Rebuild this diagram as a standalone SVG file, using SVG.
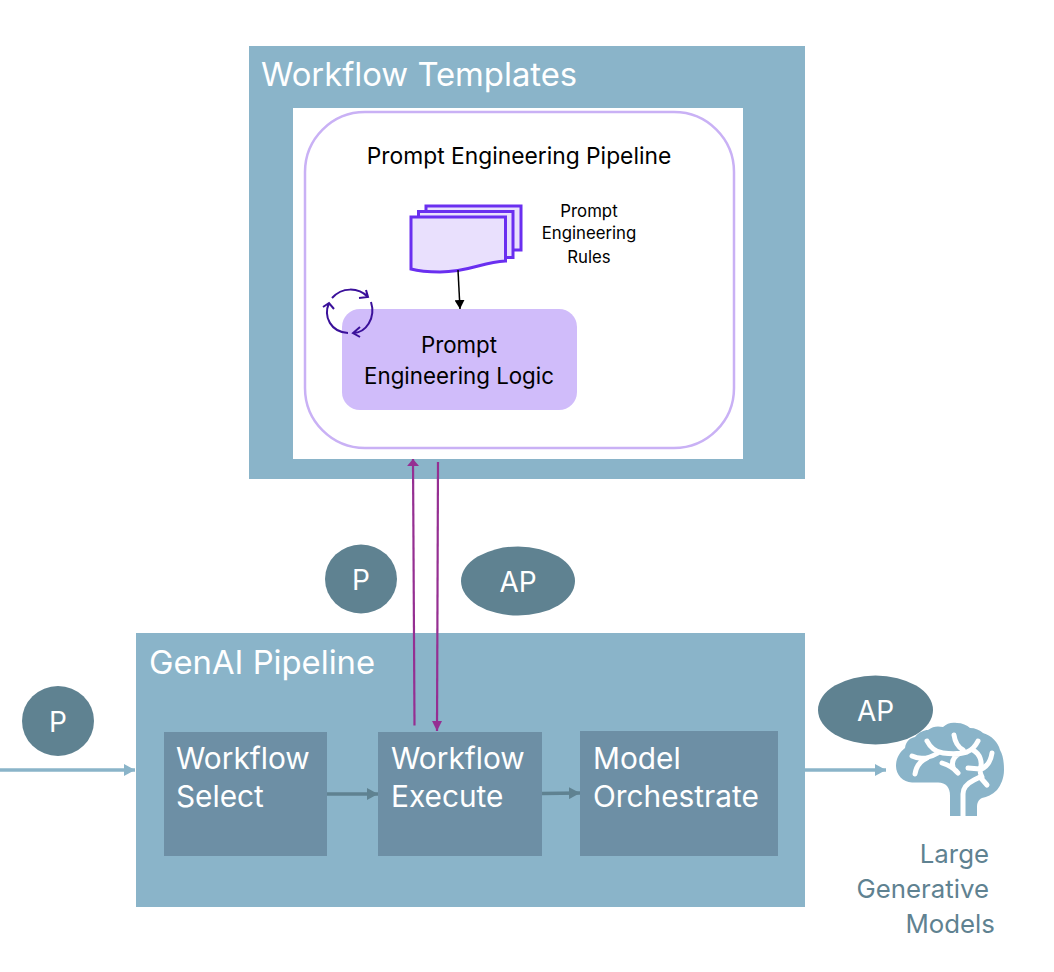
<svg xmlns="http://www.w3.org/2000/svg" width="1054" height="972" viewBox="0 0 1054 972">
<style>
text{font-family:Inter,"Noto Sans",sans-serif}
.w{fill:#fff}.k{fill:#000}
.t1{font-size:32.800px}.t2{font-size:29.800px}.t3{font-size:22.800px}.t3b{font-size:22.300px}.t4{font-size:16.800px}.t5{font-size:25.800px}.t6{font-size:28px}
.box{fill:#6d8fa5}
.oval{fill:#5f8291}
.page{fill:#e9e0fd;stroke:#6a2ff0;stroke-width:3}
.pl{fill:none;stroke:#952f92;stroke-width:2.200}
.cy{fill:none;stroke:#3a109a;stroke-width:2}
.st{fill:none;stroke:#5f8291;stroke-width:3.500}
.bl{fill:none;stroke:#8ab4c9;stroke-width:3.500}
.bw{fill:none;stroke:#fff;stroke-width:5;stroke-linecap:round;stroke-linejoin:round}
</style>
<defs>
<marker id="mp" markerUnits="userSpaceOnUse" markerWidth="12" markerHeight="10" refX="10" refY="5" orient="auto"><path d="M0 0L10 5L0 10Z" fill="#952f92"/></marker>
<marker id="mp2" markerUnits="userSpaceOnUse" markerWidth="8" markerHeight="12" refX="7" refY="6" orient="auto"><path d="M0 0L7 6L0 12Z" fill="#952f92"/></marker>
<marker id="mk" markerUnits="userSpaceOnUse" markerWidth="10" markerHeight="10" refX="9" refY="5" orient="auto"><path d="M0 0L9 5L0 10Z" fill="#000"/></marker>
<marker id="ms" markerUnits="userSpaceOnUse" markerWidth="12" markerHeight="12" refX="11" refY="6" orient="auto"><path d="M0 0L11 6L0 12Z" fill="#5f8291"/></marker>
<marker id="mb" markerUnits="userSpaceOnUse" markerWidth="12" markerHeight="12" refX="11" refY="6" orient="auto"><path d="M0 0L11 6L0 12Z" fill="#8ab4c9"/></marker>
</defs>
<g id="workflow-templates">
<rect x="249" y="46" width="556" height="433" fill="#8ab4c9"/>
<text class="w t1" x="261" y="86">Workflow Templates</text>
<rect x="293" y="108" width="450" height="351" fill="#fff"/>
</g>
<g id="prompt-pipeline">
<rect x="305" y="112" width="429" height="336" rx="60" fill="#fff" stroke="#c9b1f5" stroke-width="2.500"/>
<text class="k t3" x="519" y="164" text-anchor="middle">Prompt Engineering Pipeline</text>
</g>
<g id="prompt-rules">
<rect x="426" y="206" width="95" height="44" class="page"/>
<rect x="418.500" y="211.500" width="94.500" height="46" class="page"/>
<path class="page" d="M411 217H505.500V261C482 262 470 272 440 272C428 272 418 271 411 269Z"/>
<text class="k t4" x="589" y="217" text-anchor="middle">Prompt</text>
<text class="k t4" x="589" y="239" text-anchor="middle">Engineering</text>
<text class="k t4" x="589" y="263" text-anchor="middle">Rules</text>
</g>
<g id="prompt-logic">
<rect x="342" y="309" width="235" height="101" rx="18" fill="#d0bcfa"/>
<text class="k t3b" x="459" y="353" text-anchor="middle">Prompt</text>
<text class="k t3b" x="459" y="384" text-anchor="middle">Engineering Logic</text>
<path class="cy" d="M332 298C342 287 358 287 368 297M366 290L368 297L359 298"/>
<path class="cy" d="M371 302C376 318 366 333 353 333M360 327L353 333L360 337"/>
<path class="cy" d="M348 333C331 332 323 317 329 303M323 307L329 303L334 309"/>
</g>
<g id="badge-p-top"><ellipse cx="361" cy="579" rx="36" ry="34.500" class="oval"/><text class="w t6" x="361" y="590" text-anchor="middle">P</text></g>
<g id="badge-ap-top"><ellipse cx="518" cy="581" rx="57" ry="34.500" class="oval"/><text class="w t6" x="518" y="592" text-anchor="middle">AP</text></g>
<g id="genai-pipeline">
<rect x="136" y="633" width="669" height="274" fill="#8ab4c9"/>
<text class="w t1" x="149" y="674">GenAI Pipeline</text>
</g>
<g id="workflow-select"><rect x="164" y="732" width="163" height="124" class="box"/><text class="w t2" x="176" y="769">Workflow</text><text class="w t2" x="176" y="807">Select</text></g>
<g id="workflow-execute"><rect x="378" y="732" width="164" height="124" class="box"/><text class="w t2" x="391" y="769">Workflow</text><text class="w t2" x="391" y="807">Execute</text></g>
<g id="model-orchestrate"><rect x="580" y="731" width="198" height="125" class="box"/><text class="w t2" x="593" y="769">Model</text><text class="w t2" x="593" y="807">Orchestrate</text></g>
<g id="badge-p-left"><ellipse cx="58" cy="721" rx="36" ry="35" class="oval"/><text class="w t6" x="58" y="732" text-anchor="middle">P</text></g>
<g id="badge-ap-right"><ellipse cx="875.500" cy="710" rx="57.500" ry="34.500" class="oval"/><text class="w t6" x="875.500" y="721" text-anchor="middle">AP</text></g>
<g id="large-models">
<path fill="#8ab4c9" d="M950 816V796C950 787 946 783 938 782.500H912C903 782 896 775 896 766C896 758 900 752 905 748C906 741 910 738 915 737C919 732 924 730 928 730C933 726 938 726 943 727C947 723 952 722 957 723C962 723 967 725 970 728C975 728 980 730 983 733C992 736 998 742 1000 750C1003 755 1004 762 1004 770C1004 778 1001 785 997 790C992 795 987 797 982 798C978 800 977 803 977 808V816Z"/>
<path class="bw" d="M927 741C930 747 936 752 943 753C950 754 960 754 967 752C972 750 976 745 978 741M954 735C955 742 958 747 963 750M912 756C920 760 930 758 938 753M915 774C916 767 920 761 927 758M942 763C948 765 954 768 958 773M965 752C955 754 951 760 953 767C954 770 956 771 958 773M973 750C980 754 983 762 980 770C980 773 981 775 982 777M992 753C991 760 987 767 980 770M968 768L980 769"/>
<path class="bw" stroke-linecap="butt" d="M963 816V794C963 787 968 783 974 780L980 777L987 785"/>
<text x="989" y="863" text-anchor="end" fill="#5f8291" class="t5">Large</text>
<text x="989" y="898" text-anchor="end" fill="#5f8291" class="t5">Generative</text>
<text x="995" y="933" text-anchor="end" fill="#5f8291" class="t5">Models</text>
</g>
<g id="connectors">
<path class="pl" marker-end="url(#mp2)" d="M414.500 725.500L413 459"/>
<path class="pl" marker-end="url(#mp)" d="M438 462L437 731"/>
<path d="M458 270L460 309" fill="none" stroke="#000" stroke-width="1.500" marker-end="url(#mk)"/>
<path class="st" marker-end="url(#ms)" d="M327 794H378"/>
<path class="st" marker-end="url(#ms)" d="M542 793.500L580 793"/>
<path class="bl" marker-end="url(#mb)" d="M0 770H135"/>
<path class="bl" marker-end="url(#mb)" d="M805 770H886"/>
</g>
</svg>
